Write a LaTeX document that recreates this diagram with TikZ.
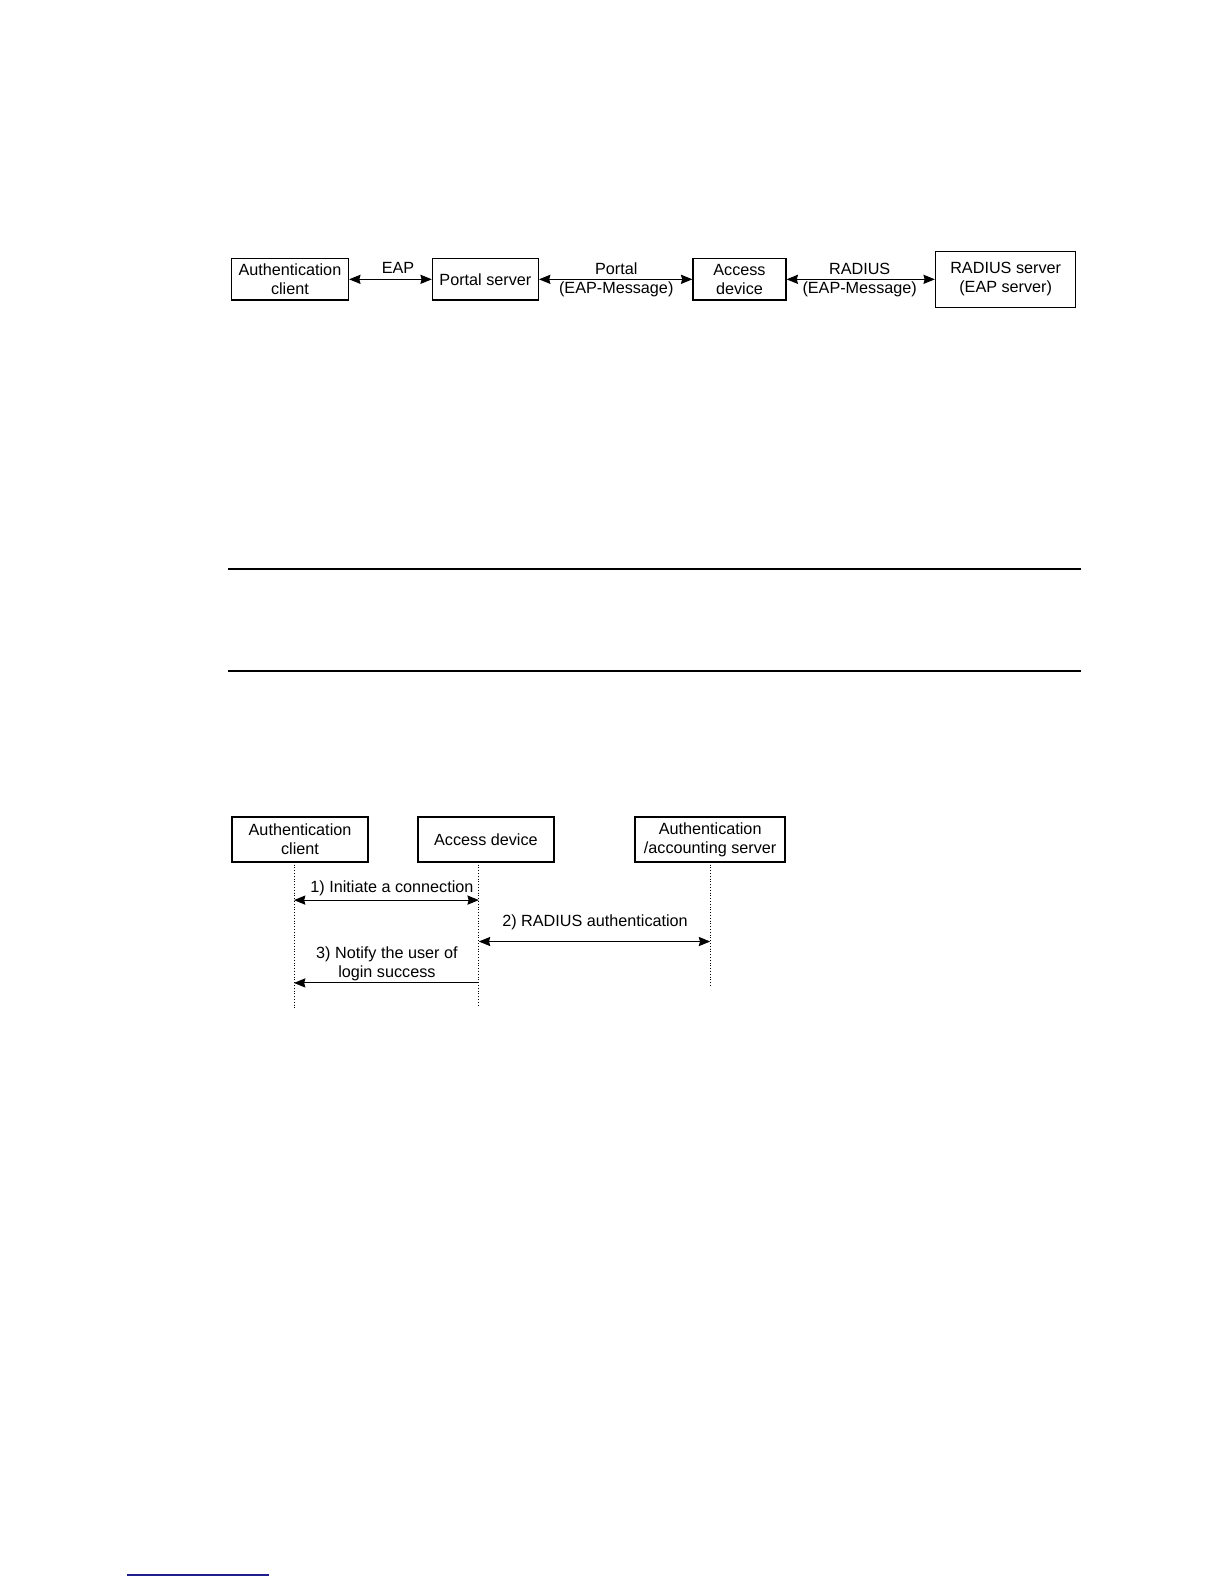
\documentclass[tikz,border=0pt]{standalone}
\usepackage{fontspec}
\setmainfont{Liberation Sans}
\usetikzlibrary{arrows.meta}
\usetikzlibrary{positioning}
\definecolor{footblue}{RGB}{30,30,140}

\begin{document}
\begin{tikzpicture}[x=0.505pt,y=-0.505pt]
\fontsize{8.1}{9.5}\selectfont

% used shapes
\tikzstyle{box} = [rectangle, draw, line width=0.6pt, align=center, inner sep=0pt, minimum height=20.7pt]
\tikzstyle{seqbox} = [rectangle, draw, line width=1pt, align=center, inner sep=0pt, minimum width=68.2pt, minimum height=22.2pt]
\tikzstyle{link} = [line width=0.5pt, {Stealth[length=5.7pt,width=4.6pt,inset=0.6pt]}-{Stealth[length=5.7pt,width=4.6pt,inset=0.6pt]}]
\tikzstyle{onelink} = [line width=0.5pt, -{Stealth[length=5.7pt,width=4.6pt,inset=0.6pt]}]
\tikzstyle{life} = [line width=0.4pt, densely dotted]
\tikzstyle{msg} = [inner sep=0pt, align=center]

\useasboundingbox (0,0) rectangle (1212,1568);

% top: EAP relay
\node [box, minimum width=58.6pt] (client) at (287,276.5) {Authentication\\client};
\node [box, minimum width=53pt] (portal) at (480.5,276.5) {Portal server};
\node [box, minimum width=46.5pt] (access) at (732,276.5) {Access\\device};
\node [box, minimum width=70.2pt, minimum height=27.8pt] (radius) at (995.5,276.5) {RADIUS server\\(EAP server)};

\draw [link] (client) -- (portal);
\draw [link] (portal) -- (access);
\draw [link] (access) -- (radius);

\node [msg] (eap) at (394,265) {EAP};
\node [msg] (portalmsg) at (610,277) {Portal\\(EAP-Message)};
\node [msg] (radiusmsg) at (851,277) {RADIUS\\(EAP-Message)};

% rules
\draw [line width=0.75pt] (226,563) -- (1070,563);
\draw [line width=0.75pt] (226,664) -- (1070,664);

% bottom: sequence
\node [seqbox] (seqclient) at (297,831) {Authentication\\client};
\node [seqbox] (seqaccess) at (481,831) {Access device};
\node [seqbox, minimum width=75.2pt] (seqserver) at (703,831) {Authentication\\/accounting server};

\coordinate (cltop) at (291,853);
\coordinate (clend) at (291,999);
\coordinate (actop) at (474,853);
\coordinate (acend) at (474,997);
\coordinate (svtop) at (703,853);
\coordinate (svend) at (703,976);
\draw [life] (cltop) -- (clend);
\draw [life] (actop) -- (acend);
\draw [life] (svtop) -- (svend);

\coordinate (cl1) at (291,891);
\coordinate (ac1) at (474,891);
\coordinate (ac2) at (474,932);
\coordinate (sv2) at (703,932);
\coordinate (ac3) at (474,973);
\coordinate (cl3) at (291,973);

\draw [link] (cl1) -- (ac1);
\draw [link] (ac2) -- (sv2);
\draw [onelink] (ac3) -- (cl3);

\node [msg] (step1) at (388,879) {1) Initiate a connection};
\node [msg] (step2) at (589,913) {2) RADIUS authentication};
\node [msg] (step3) at (383,954.5) {3) Notify the user of\\login success};

% footnote rule
\draw [footblue, line width=0.75pt] (126,1559) -- (266,1559);

\end{tikzpicture}
\end{document}
